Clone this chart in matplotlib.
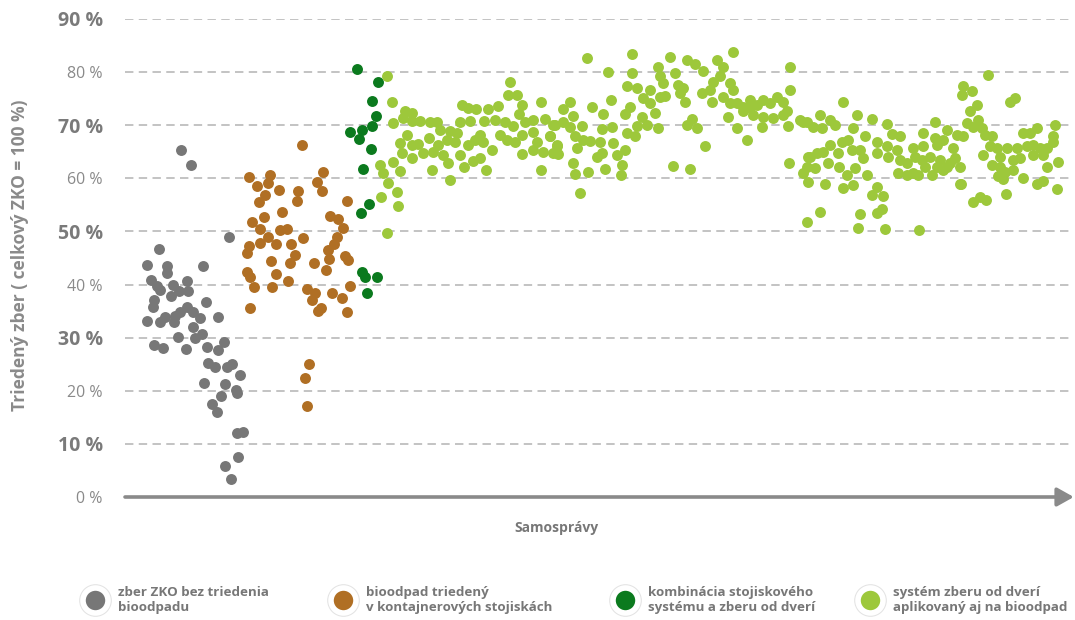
import matplotlib
matplotlib.use("Agg")
import matplotlib.pyplot as plt
from matplotlib.lines import Line2D
from matplotlib.legend_handler import HandlerTuple

plt.rcParams['font.family'] = ['Open Sans', 'DejaVu Sans']

# poradie samosprávy (x) a podiel triedeného zberu v % (y)
sivy_x = [104, 34, 22, 42, 42, 78, 26, 32, 35, 48, 62, 54, 63, 46, 81, 29, 28, 22, 35, 40,
          50, 49, 55, 62, 68, 75, 93, 68, 53, 70, 77, 29, 38, 61, 82, 93, 99, 83, 90, 102,
          107, 115, 79, 100, 111, 112, 96, 87, 92, 112, 118, 113, 100, 106, 56, 66]
sivy_y = [48.9, 46.7, 43.7, 43.5, 42.1, 43.4, 40.9, 39.7, 39.0, 39.9, 40.7, 38.7, 38.7, 37.9, 36.8, 37.0, 35.8, 33.2, 33.0, 33.8,
          34.1, 33.0, 34.9, 35.8, 34.9, 33.7, 33.8, 32.1, 30.1, 29.9, 30.7, 28.6, 28.0, 27.8, 28.2, 27.7, 29.1, 25.3, 24.4, 24.5,
          25.0, 23.0, 21.4, 21.3, 20.1, 19.5, 19.1, 17.5, 16.0, 12.0, 12.2, 7.6, 5.8, 3.4, 65.3, 62.6]

hnedy_x = [177, 124, 132, 145, 143, 140, 134, 154, 173, 172, 198, 192, 197, 222, 127, 135, 139, 157, 155, 162,
           143, 135, 124, 122, 151, 166, 178, 205, 213, 218, 212, 209, 203, 204, 220, 223, 170, 165, 146, 189,
           201, 122, 125, 151, 163, 129, 147, 182, 190, 187, 196, 193, 207, 217, 225, 125, 222, 184, 180, 182]
hnedy_y = [66.2, 60.3, 58.6, 60.6, 59.1, 56.9, 55.6, 57.8, 57.7, 55.7, 61.1, 59.4, 57.7, 55.7, 51.8, 50.4, 52.7, 53.6, 50.3, 50.4,
           49.0, 47.8, 47.3, 46.0, 47.6, 47.6, 48.7, 52.9, 52.3, 50.6, 49.0, 47.6, 46.5, 44.9, 45.4, 44.6, 45.6, 44.1, 44.5, 44.0,
           42.7, 42.4, 41.5, 42.0, 40.6, 39.5, 39.6, 39.1, 38.5, 37.1, 35.5, 35.1, 38.4, 37.5, 39.7, 35.5, 34.9, 25.0, 22.4, 17.1]

tmavy_x = [232, 253, 247, 251, 247, 225, 237, 234, 246, 238, 244, 236, 237, 240, 252, 242]
tmavy_y = [80.6, 78.1, 74.6, 71.8, 69.9, 68.7, 69.1, 67.4, 65.5, 61.8, 55.1, 53.4, 42.4, 41.5, 41.5, 38.5]

svetly_x = [262, 267, 280, 287, 278, 287, 295, 268, 305, 312, 315, 325, 332, 337, 343, 351, 363, 373, 335, 345,
            359, 370, 380, 388, 400, 408, 420, 430, 385, 383, 392, 397, 394, 416, 282, 275, 287, 293, 304, 313,
            322, 330, 343, 355, 350, 358, 375, 382, 390, 397, 408, 412, 425, 432, 277, 287, 298, 308, 318, 323,
            335, 339, 348, 355, 367, 397, 408, 418, 428, 255, 268, 258, 275, 263, 272, 273, 256, 262, 307, 325,
            361, 416,
            462, 507, 545, 562, 570, 578, 592, 598, 608, 483, 507, 533, 550, 535, 502, 512, 525, 538, 553, 558,
            540, 535, 555, 560, 577, 585, 588, 595, 587, 605, 608, 445, 438, 448, 467, 486, 478, 500, 505, 518,
            517, 525, 530, 428, 438, 445, 457, 477, 487, 502, 510, 512, 522, 533, 562, 567, 572, 425, 432, 433,
            450, 452, 458, 465, 475, 472, 477, 488, 492, 500, 497, 496, 480, 463, 450, 448, 455, 548, 565, 580,
            598, 605, 612, 618, 625, 632, 638, 645, 652, 658, 665, 618, 628, 638, 648, 658, 662, 625, 603, 612,
            622, 637, 665, 663, 664, 675, 682, 678, 683, 682,
            718, 678, 688, 695, 697, 705, 710, 732, 728, 747, 762, 767, 775, 717, 723, 727, 705, 740, 752, 735,
            738, 685, 692, 698, 682, 690, 703, 713, 714, 722, 730, 742, 752, 683, 700, 718, 728, 747, 752, 758,
            735, 757, 752, 695, 733, 760, 794, 762, 772, 763, 775, 782, 773, 782, 788, 793, 788, 790, 798, 798,
            797, 800, 810, 810, 818, 807, 812, 822, 828, 830, 835, 835, 822, 832, 838, 812, 805, 815, 818, 825,
            863, 838, 837, 847, 852, 845, 842, 853, 857, 848, 885, 890, 860, 867, 865, 858, 872, 875, 882, 892,
            902, 908, 915, 922, 928, 930, 928, 912, 905, 898, 888, 895, 908, 918, 867, 875, 880, 873, 878, 888,
            898, 912, 918, 922, 932, 933, 848, 855, 861, 881, 836]
svetly_y = [79.2, 74.4, 72.6, 72.3, 71.3, 70.8, 70.8, 70.4, 70.7, 70.7, 69.1, 68.9, 68.5, 73.9, 73.2, 73.1, 73.1, 73.7, 70.7, 70.8,
            70.8, 71.0, 70.6, 69.8, 70.7, 71.0, 71.2, 70.1, 78.2, 75.6, 75.6, 73.8, 72.1, 74.4, 68.2, 66.6, 66.3, 66.4, 67.6, 66.3,
            67.2, 66.8, 66.3, 68.2, 67.2, 66.9, 68.2, 67.2, 66.8, 68.2, 68.8, 66.9, 67.9, 66.3, 64.7, 63.8, 64.7, 65.0, 64.4, 62.8,
            64.4, 62.2, 63.3, 63.8, 65.3, 64.5, 65.3, 65.0, 64.7, 62.5, 63.1, 61.0, 61.3, 59.1, 57.5, 54.7, 56.4, 49.7, 61.6, 59.7,
            61.6, 61.6,
            82.6, 83.4, 82.8, 82.2, 81.5, 80.3, 82.2, 81.0, 83.7, 80.1, 79.8, 80.9, 79.9, 79.2, 77.3, 77.1, 76.7, 77.9, 77.6, 77.1,
            75.5, 75.3, 76.0, 74.4, 76.1, 76.6, 78.2, 79.2, 74.4, 77.9, 76.6, 74.4, 73.0, 71.8, 73.5, 74.8, 72.1, 72.1, 73.5, 75.1,
            71.6, 74.1, 72.3, 70.1, 70.7, 69.7, 69.9, 69.2, 69.6, 68.5, 67.9, 69.9, 70.1, 69.4, 70.1, 71.1, 69.4, 67.9, 66.0, 64.6,
            67.9, 65.7, 67.3, 67.1, 66.9, 64.0, 64.7, 66.7, 64.4, 65.3, 62.5, 60.6, 61.7, 61.1, 60.8, 62.9, 57.2, 62.3, 61.7, 66.0,
            75.4, 74.1, 74.1, 73.5, 73.2, 73.8, 74.8, 74.1, 75.4, 74.4, 76.6, 72.6, 71.9, 71.6, 71.3, 71.9, 72.6, 74.8, 71.6, 69.4,
            67.3, 69.6, 81.0, 69.9, 62.8, 71.0, 70.7, 61.0, 64.1, 51.8,
            74.3, 70.7, 69.7, 71.9, 69.4, 71.0, 70.1, 71.9, 69.4, 71.1, 70.2, 68.4, 68.0, 66.9, 67.2, 65.3, 66.3, 67.9, 66.9, 65.3,
            63.8, 64.1, 64.7, 65.0, 62.2, 61.9, 62.8, 64.7, 62.2, 60.6, 61.9, 60.6, 64.8, 59.4, 58.9, 58.1, 58.8, 56.9, 58.4, 56.6,
            53.3, 54.2, 53.4, 53.7, 50.6, 50.4, 50.3, 66.0, 65.3, 64.1, 63.5, 62.8, 61.0, 60.6, 61.0, 60.6, 65.7, 64.1, 68.5, 66.0,
            63.5, 62.2, 70.7, 67.6, 67.2, 60.6, 62.2, 62.2, 65.7, 63.8, 62.2, 59.0, 69.1, 68.2, 68.0, 66.3, 64.1, 63.5, 61.6, 62.8,
            79.5, 77.3, 75.7, 76.5, 73.8, 72.6, 70.5, 71.0, 69.4, 69.7, 74.4, 75.1, 68.2, 68.0, 66.0, 64.4, 65.7, 64.1, 65.7, 65.8,
            66.0, 66.3, 65.7, 65.7, 66.9, 70.1, 67.9, 69.4, 68.5, 68.5, 63.5, 63.8, 64.4, 64.4, 62.5, 62.2, 61.2, 60.4, 59.8, 61.6,
            60.0, 59.0, 59.5, 62.2, 57.9, 63.1, 55.6, 56.4, 56.0, 57.1, 59.0]

skupiny = ["zber ZKO bez triedenia\nbioodpadu",
           "bioodpad triedený\nv kontajnerových stojiskách",
           "kombinácia stojiskového\nsystému a zberu od dverí",
           "systém zberu od dverí\naplikovaný aj na bioodpad"]
farby = ["#777777", "#b06f24", "#0b7a1e", "#9dc83b"]

y_ticks = [0, 10, 20, 30, 40, 50, 60, 70, 80, 90]
y_labels = ["0 %", "10 %", "20 %", "30 %", "40 %", "50 %", "60 %", "70 %", "80 %", "90 %"]

fig = plt.figure(figsize=(10.75, 6.2), dpi=100)
ax = fig.add_axes([125/1075, 123/620, 945/1075, 478/620])
ax.set_xlim(0, 945)
ax.set_ylim(0, 90)

for t in y_ticks[1:]:
    ax.axhline(t, color="#b3b3b3", lw=1.1, ls=(0, (5.5, 3.5)), zorder=1)

data = [(sivy_x, sivy_y), (hnedy_x, hnedy_y), (tmavy_x, tmavy_y), (svetly_x, svetly_y)]
for (xs, ys), c in zip(data, farby):
    ax.scatter(xs, ys, s=62, color=c, linewidths=0, zorder=3, clip_on=False)

for s in ax.spines.values():
    s.set_visible(False)
ax.set_xticks([])
ax.set_yticks(y_ticks)
ax.set_yticklabels(y_labels)
ax.tick_params(axis="y", length=0, pad=16)
for t, lab in zip(y_ticks, ax.get_yticklabels()):
    if t % 20 == 10:
        lab.set_fontsize(14)
        lab.set_fontweight("bold")
        lab.set_color("#7a7a7a")
    else:
        lab.set_fontsize(11.5)
        lab.set_color("#8a8a8a")

# os x so šípkou
ax.annotate("", xy=(1.004, 0), xytext=(0, 0), xycoords="axes fraction",
            arrowprops=dict(arrowstyle="-|>,head_length=0.5,head_width=0.28", lw=2.6,
                            color="#8a8a8a", shrinkA=0, shrinkB=0, mutation_scale=20),
            zorder=2)

fig.text(0.019, 0.589, "Triedený zber ( celkový ZKO = 100 %)", rotation=90,
         ha="center", va="center", fontsize=12.5, fontweight="bold", color="#8a8a8a")
fig.text(556/1075, 1 - 528/620, "Samosprávy", ha="center", va="center",
         fontsize=10, fontweight="bold", color="#777777")

# legenda
leg_x = [78, 326, 608, 853]
for lx, lab, c in zip(leg_x, skupiny, farby):
    tien = Line2D([], [], ls="none", marker="o", markersize=23.5,
                  markerfacecolor="#e3e3e3", markeredgewidth=0)
    h = Line2D([], [], ls="none", marker="o", markersize=18, markerfacecolor=c,
               markeredgecolor="white", markeredgewidth=4)
    leg = fig.legend(handles=[(tien, h)], labels=[lab], loc="center left",
                     bbox_to_anchor=(lx/1075, 1 - 600/620), frameon=False,
                     handler_map={tuple: HandlerTuple(ndivide=1, pad=0)},
                     handletextpad=0.9, handlelength=1.6, borderpad=0,
                     prop=dict(size=9.6, weight="bold"))
    for txt in leg.get_texts():
        txt.set_color("#777777")
        txt.set_linespacing(1.2)

fig.savefig("out.png", dpi=100, facecolor="white")
